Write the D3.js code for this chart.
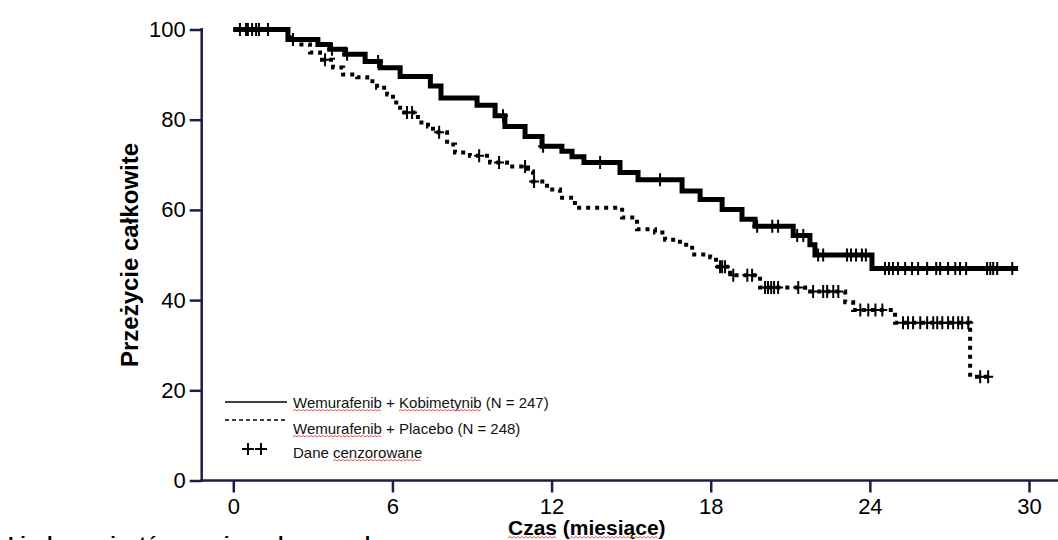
<!DOCTYPE html>
<html><head><meta charset="utf-8">
<script src="https://cdn.jsdelivr.net/npm/d3@7"></script>
<style>
html,body{margin:0;padding:0;background:#fff;}
svg{display:block;font-family:"Liberation Sans",Arial,sans-serif;}
</style>
</head><body>
<svg id="chart" width="1058" height="540"></svg>
<script>
// ---- data (months, % survival) ----
const kobiTimes = [0, 2.06, 3.19, 3.64, 4.21, 4.97, 5.54, 6.29, 7.43, 7.83, 9.19, 9.87, 10.24, 11.00, 11.64, 12.39, 12.77, 13.22, 14.58, 15.26, 16.92, 17.60, 18.43, 19.18, 19.67, 21.11, 21.74, 21.93, 24.08];
const kobiSurv  = [100, 97.8, 96.7, 95.6, 94.5, 92.9, 91.5, 89.6, 87.5, 84.8, 83.2, 80.9, 78.5, 76.3, 74.1, 73.0, 71.8, 70.5, 68.3, 66.7, 64.2, 62.3, 60.1, 57.9, 56.4, 54.3, 52.3, 50.0, 47.0];
const kobiEnd = 29.59;
const kobiCensor = [0.48, 0.71, 0.97, 1.31, 2.25, 3.72, 4.29, 5.46, 10.17, 11.68, 13.83, 16.09, 19.75, 20.32, 20.54, 21.26, 21.49, 22.05, 22.24, 23.14, 23.29, 23.48, 23.70, 23.85, 24.57, 24.72, 24.87, 25.06, 25.33, 25.59, 25.82, 26.16, 26.50, 26.65, 26.95, 27.22, 27.40, 27.63, 28.42, 28.54, 28.65, 28.80, 29.37];

const placTimes = [0, 2.06, 2.40, 2.89, 3.27, 3.76, 4.14, 4.67, 5.05, 5.42, 5.80, 6.02, 6.29, 6.96, 7.34, 7.53, 8.06, 8.36, 8.92, 9.68, 10.32, 11.11, 11.30, 11.83, 12.32, 12.88, 14.66, 15.22, 15.90, 16.28, 16.84, 17.30, 17.98, 18.20, 18.73, 19.86, 21.56, 23.07, 23.37, 24.95, 27.78];
const placSurv  = [100, 98.2, 96.7, 94.9, 93.3, 91.6, 90.0, 89.4, 88.5, 87.1, 85.6, 83.8, 81.6, 79.4, 78.5, 77.2, 74.5, 72.7, 72.0, 70.5, 69.6, 68.5, 66.3, 64.5, 62.7, 60.5, 58.3, 55.7, 55.0, 53.4, 52.3, 50.1, 49.5, 47.4, 45.5, 42.8, 41.9, 39.5, 37.8, 35.0, 23.0];
const placEnd = 28.54;
const placCensor = [0.25, 0.55, 0.86, 3.46, 6.55, 6.74, 7.76, 9.27, 10.02, 11.00, 11.34, 18.35, 18.43, 18.54, 18.85, 19.38, 19.56, 20.05, 20.16, 20.28, 20.39, 20.54, 21.30, 21.86, 22.24, 22.39, 22.62, 22.81, 23.64, 23.94, 24.21, 24.47, 25.25, 25.44, 25.63, 25.90, 26.16, 26.39, 26.54, 26.73, 26.95, 27.14, 27.33, 27.48, 27.71, 28.16, 28.46];

const xTicks = [0, 6, 12, 18, 24, 30];
const yTicks = [0, 20, 40, 60, 80, 100];
const xTitle = ["Czas", " (", "miesiące", ")"];
const yTitle = "Przeżycie całkowite";
const legendLabels = [
  [["Wemurafenib", true], [" + ", false], ["Kobimetynib", true], [" (N = 247)", false]],
  [["Wemurafenib", true], [" + Placebo (N = 248)", false]],
  [["Dane ", false], ["cenzorowane", true]]
];
const footText = "Liczba pacjentów narażonych na ryzyko";

// ---- drawing ----
const svg = d3.select("#chart");
svg.append("rect").attr("width",1058).attr("height",540).attr("fill","#fff");
const axisColor = "#1d1d47";

const x = d3.scaleLinear().domain([0,30]).range([233.3,1029]);
const y = d3.scaleLinear().domain([0,100]).range([480.5,29.5]);

// axes
const yAxis = svg.append("g").attr("transform","translate(201.7,0)")
  .call(d3.axisLeft(y).tickValues(yTicks).tickSize(12).tickSizeOuter(0).tickPadding(4));
yAxis.select(".domain").remove();
yAxis.selectAll("line").attr("stroke",axisColor).attr("stroke-width",2.5);
yAxis.selectAll("text").attr("font-size",22).attr("fill","#000").attr("font-family","Liberation Sans, Arial, sans-serif");

const xAxis = svg.append("g").attr("transform","translate(0,480.5)")
  .call(d3.axisBottom(x).tickValues(xTicks).tickSize(12).tickSizeOuter(0).tickPadding(6));
xAxis.select(".domain").remove();
xAxis.selectAll("line").attr("stroke",axisColor).attr("stroke-width",2.5);
xAxis.selectAll("text").attr("font-size",22).attr("fill","#000").attr("font-family","Liberation Sans, Arial, sans-serif");

svg.append("line").attr("x1",201.7).attr("x2",201.7).attr("y1",y(100)-1.5).attr("y2",y(0)+1.2)
  .attr("stroke",axisColor).attr("stroke-width",2.5);
svg.append("line").attr("x1",200.5).attr("x2",1058).attr("y1",y(0)).attr("y2",y(0))
  .attr("stroke",axisColor).attr("stroke-width",2.5);

// survival curves
function steps(times, surv, end){
  const pts = times.map((t,i)=>[t,surv[i]]);
  pts.push([end, surv[surv.length-1]]);
  return pts;
}
const line = d3.line().x(d=>x(d[0])).y(d=>y(d[1])).curve(d3.curveStepAfter);

svg.append("path").datum(steps(placTimes, placSurv, placEnd))
  .attr("d", line).attr("fill","none").attr("stroke","#000")
  .attr("stroke-width",4).attr("stroke-dasharray","4,5");
svg.append("path").datum(steps(kobiTimes, kobiSurv, kobiEnd))
  .attr("d", line).attr("fill","none").attr("stroke","#000")
  .attr("stroke-width",5).attr("stroke-linejoin","miter");

// censor marks
function survAt(times, surv, t){
  const i = d3.bisectRight(times, t) - 1;
  return surv[Math.max(0,i)];
}
function plusPath(cx, cy){
  return `M${cx-5},${cy}h10M${cx},${cy-6.5}v13`;
}
const cg = svg.append("g").attr("stroke","#000").attr("stroke-width",2).attr("fill","none");
kobiCensor.forEach(t=>{
  cg.append("path").attr("d", plusPath(x(t), y(survAt(kobiTimes,kobiSurv,t))));
});
placCensor.forEach(t=>{
  cg.append("path").attr("d", plusPath(x(t), y(survAt(placTimes,placSurv,t))));
});

// squiggle helper
function squiggle(x0, x1, yb){
  let d = `M${x0},${yb}`;
  let up = true;
  for(let xx = x0 + 2; xx <= x1; xx += 2){
    d += `L${xx},${up ? yb-1.5 : yb}`;
    up = !up;
  }
  svg.append("path").attr("d", d).attr("fill","none").attr("stroke","#e25b5b").attr("stroke-width",1);
}
function richText(parts, tx, ty, size, weight, sqOffset){
  const t = svg.append("text").attr("x",tx).attr("y",ty).attr("font-size",size)
    .attr("font-weight",weight).attr("fill","#111").attr("xml:space","preserve");
  const spans = parts.map(p => t.append("tspan").text(p[0]));
  parts.forEach((p,i)=>{
    if(p[1]){
      const b = spans[i].node().getBBox();
      squiggle(b.x, b.x + b.width, ty + sqOffset);
    }
  });
  return t;
}

// legend
svg.append("line").attr("x1",225).attr("x2",287).attr("y1",402).attr("y2",402)
  .attr("stroke","#000").attr("stroke-width",1.5);
svg.append("line").attr("x1",225).attr("x2",287).attr("y1",420).attr("y2",420)
  .attr("stroke","#000").attr("stroke-width",1.5).attr("stroke-dasharray","4,3");
const lg = svg.append("g").attr("stroke","#000").attr("stroke-width",2).attr("fill","none");
[248, 261].forEach(cx => lg.append("path").attr("d", `M${cx-6},449h12M${cx},443v12`));
richText(legendLabels[0], 293, 407.5, 15, "normal", 3.5);
richText(legendLabels[1], 293, 433.5, 15, "normal", 3.5);
richText(legendLabels[2], 293, 457.5, 15, "normal", 3.5);

// axis titles
const xt = svg.append("text").attr("x",508).attr("y",535).attr("font-size",21)
  .attr("font-weight","bold").attr("fill","#000").attr("xml:space","preserve");
const xtSpans = xTitle.map(s => xt.append("tspan").text(s));
[0,2].forEach(i=>{
  const b = xtSpans[i].node().getBBox();
  squiggle(b.x, b.x + b.width, 538);
});

svg.append("text").attr("transform","translate(137.5,255) rotate(-90)")
  .attr("text-anchor","middle").attr("font-size",24).attr("font-weight","bold")
  .attr("fill","#000").text(yTitle);

// cut-off footer (only the tops of the letters are visible, as in the reference)
svg.append("text").attr("x",8).attr("y",551).attr("font-size",20).attr("font-weight","bold")
  .attr("fill","#000").text(footText);
</script>
</body></html>
